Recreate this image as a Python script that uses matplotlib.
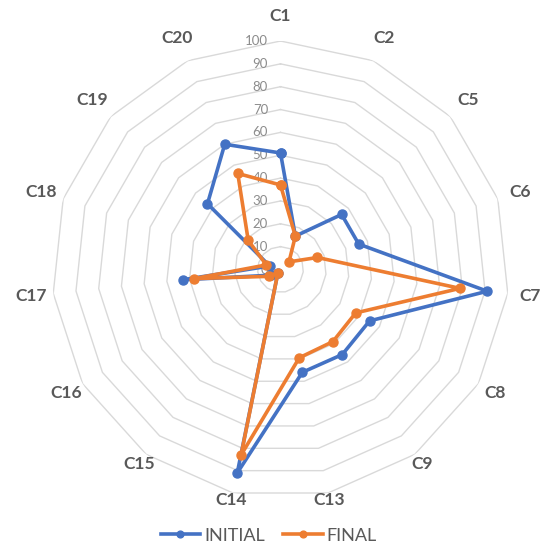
import numpy as np
import matplotlib
matplotlib.use("Agg")
import matplotlib.pyplot as plt

categories = ["C1", "C2", "C5", "C6", "C7", "C8", "C9", "C13", "C14",
              "C15", "C16", "C17", "C18", "C19", "C20"]
initial = [51, 16, 36, 36, 91, 45, 46, 46, 91, 2, 5, 43, 5, 43, 60]
final = [37, 16, 5, 17, 79, 38, 39, 39.5, 83, 2, 6, 38, 6.5, 19, 46]
ring_levels = [0, 10, 20, 30, 40, 50, 60, 70, 80, 90, 100]
series_names = ["INITIAL", "FINAL"]

BLUE = "#4472C4"
ORANGE = "#ED7D31"
GRID = "#d9d9d9"
LABEL = "#595959"
TICK = "#8c8c8c"

plt.rcParams["font.family"] = ["Lato", "DejaVu Sans"]

fig = plt.figure(figsize=(5.5, 5.6), dpi=100)
W, H = 550, 560
cx, cy, R = 280.5, 269.5, 228.5
ax = fig.add_axes([(cx - R) / W, (H - cy - R) / H, 2 * R / W, 2 * R / H],
                  projection="polar")
ax.set_theta_offset(np.pi / 2)
ax.set_theta_direction(-1)
ax.set_ylim(0, 100)
ax.grid(False)
ax.spines["polar"].set_visible(False)
ax.set_xticks([])
ax.set_yticks([])
ax.patch.set_alpha(0)

n = len(categories)
theta = np.linspace(0, 2 * np.pi, n, endpoint=False)
theta_c = np.append(theta, theta[0])

# polygon grid rings
for lv in ring_levels[1:]:
    ax.plot(theta_c, [lv] * (n + 1), color=GRID, lw=1.0, zorder=1)

# data
for vals, col, name in [(initial, BLUE, series_names[0]),
                        (final, ORANGE, series_names[1])]:
    v = list(vals) + [vals[0]]
    ax.plot(theta_c, v, color=col, lw=2.6, marker="o", markersize=6.5,
            zorder=3, label=name, clip_on=False)

# tick labels along C1 axis
for lv in ring_levels:
    ax.annotate(str(lv), xy=(0, lv), xycoords="data",
                xytext=(-9, 0), textcoords="offset points",
                ha="right", va="center", fontsize=9.5, color=TICK, zorder=2)

# category labels
for t, lab in zip(theta, categories):
    c = np.cos(t)
    r = 110 + c if c >= 0 else 110 - 7 * c * c
    ax.text(t, r, lab, ha="center", va="center", fontsize=12.5,
            fontweight="bold", color=LABEL, clip_on=False)

leg = fig.legend(loc="lower center", bbox_to_anchor=(268.5 / W, 0.0),
                 ncol=2, frameon=False, fontsize=13, handlelength=2.2,
                 columnspacing=1.0, handletextpad=0.2, markerscale=0.75)
for txt in leg.get_texts():
    txt.set_color(LABEL)

fig.savefig("out.png", dpi=100)
